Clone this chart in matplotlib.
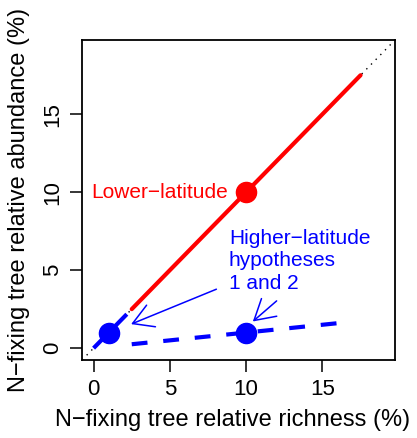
import matplotlib
matplotlib.use("Agg")
import matplotlib.pyplot as plt
import numpy as np

plt.rcParams['font.family'] = ['Liberation Sans', 'DejaVu Sans']

# data
ticks = [0, 5, 10, 15]
one_to_one = [-0.76, 19.76]          # dotted 1:1 reference line
lower_line_x = [2.5, 17.5]           # lower-latitude line (y = x)
higher_diag_x = [0, 2.5]             # higher-latitude, along 1:1
higher_flat_x = [2.5, 16]            # higher-latitude, slope 0.1
higher_slope = 0.1
lower_pt = (10, 10)
higher_pts_x = [1, 10]
higher_pts_y = [1, 1]
arrow_tails = [(8.05, 3.78), (12.0, 3.03)]
arrow_heads = [(2.46, 1.54), (10.44, 1.71)]

red = "#FF0000"
blue = "#0000FF"

fig = plt.figure(figsize=(4.17, 4.38), dpi=100)
ax = fig.add_axes([82 / 417, 78 / 438, 313 / 417, 320 / 438])
ax.set_xlim(-0.76, 19.76)
ax.set_ylim(-0.76, 19.76)

# 1:1 dotted line
ax.plot(one_to_one, one_to_one, color="black", lw=1.0, dashes=(1, 3.8), zorder=1)

# lower latitude
ax.plot(lower_line_x, lower_line_x, color=red, lw=3.0, solid_capstyle="round", zorder=2)
ax.plot(*lower_pt, "o", color=red, ms=14.5, zorder=4)

# higher latitude
hx = np.array(higher_flat_x)
ax.plot(higher_diag_x, higher_diag_x, color=blue, lw=3.0, dashes=(3.8, 3.8), zorder=2)
ax.plot(hx, higher_slope * hx, color=blue, lw=3.0, dashes=(3.8, 3.8), zorder=2)
ax.plot(higher_pts_x, higher_pts_y, "o", color=blue, ms=14.5, zorder=4, ls="none")

# labels
ax.text(8.8, 10.0, "Lower\u2212latitude", color=red, fontsize=15, ha="right", va="center")
ax.text(8.87, 5.6, "Higher\u2212latitude\nhypotheses\n1 and 2", color=blue,
        fontsize=15, ha="left", va="center", linespacing=1.23)

for tail, head in zip(arrow_tails, arrow_heads):
    ax.annotate("", xy=head, xytext=tail,
                arrowprops=dict(arrowstyle="->,head_length=0.72,head_width=0.42",
                                color=blue, lw=1.1, shrinkA=0, shrinkB=0,
                                mutation_scale=20))

ax.set_xticks(ticks)
ax.set_yticks(ticks)
ax.tick_params(direction="out", length=8.6, width=1.1, labelsize=16)
ax.tick_params(axis="x", pad=5)
ax.tick_params(axis="y", pad=4.8)
for lab in ax.get_yticklabels():
    lab.set_rotation(90)
    lab.set_va("center")
for sp in ax.spines.values():
    sp.set_linewidth(1.3)

ax.set_xlabel("N\u2212fixing tree relative richness (%)", fontsize=17)
ax.set_ylabel("N\u2212fixing tree relative abundance (%)", fontsize=17)
# label centres in axes coordinates (x label slightly left of centre, as in source)
ax.xaxis.set_label_coords((233 - 82) / 313, -(420 - 360) / 320)
ax.yaxis.set_label_coords(-(82 - 19) / 313, 0.5)
ax.xaxis.label.set_va("center")
ax.yaxis.label.set_va("center")

fig.savefig("out.png", dpi=100)
